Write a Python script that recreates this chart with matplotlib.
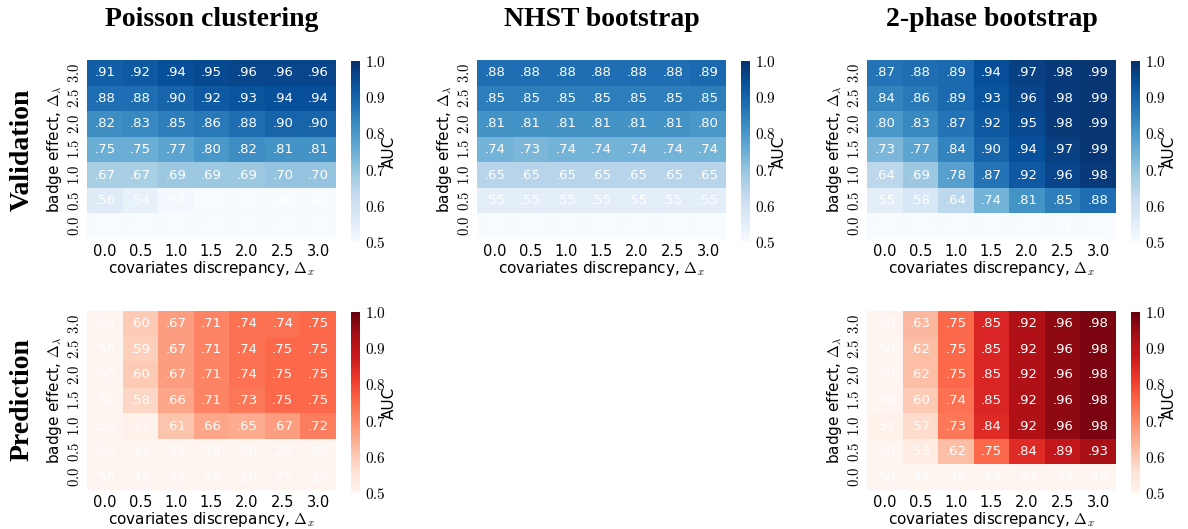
import numpy as np
import matplotlib
matplotlib.use("Agg")
import matplotlib.pyplot as plt
import seaborn as sns

plt.rcParams['mathtext.fontset'] = 'cm'
plt.rcParams['font.family'] = 'DejaVu Sans'

dx = [0.0, 0.5, 1.0, 1.5, 2.0, 2.5, 3.0]
dl = [3.0, 2.5, 2.0, 1.5, 1.0, 0.5, 0.0]   # rows, top to bottom

poisson_val = [
    [.91, .92, .94, .95, .96, .96, .96],
    [.88, .88, .90, .92, .93, .94, .94],
    [.82, .83, .85, .86, .88, .90, .90],
    [.75, .75, .77, .80, .82, .81, .81],
    [.67, .67, .69, .69, .69, .70, .70],
    [.56, .54, .51, .49, .47, .46, .46],
    [.49, .48, .43, .40, .39, .36, .35],
]
nhst_val = [
    [.88, .88, .88, .88, .88, .88, .89],
    [.85, .85, .85, .85, .85, .85, .85],
    [.81, .81, .81, .81, .81, .81, .80],
    [.74, .73, .74, .74, .74, .74, .74],
    [.65, .65, .65, .65, .65, .65, .65],
    [.55, .55, .55, .55, .55, .55, .55],
    [.50, .50, .50, .50, .50, .50, .50],
]
twophase_val = [
    [.87, .88, .89, .94, .97, .98, .99],
    [.84, .86, .89, .93, .96, .98, .99],
    [.80, .83, .87, .92, .95, .98, .99],
    [.73, .77, .84, .90, .94, .97, .99],
    [.64, .69, .78, .87, .92, .96, .98],
    [.55, .58, .64, .74, .81, .85, .88],
    [.50, .49, .46, .48, .48, .41, .48],
]
poisson_pred = [
    [.50, .60, .67, .71, .74, .74, .75],
    [.50, .59, .67, .71, .74, .75, .75],
    [.50, .60, .67, .71, .74, .75, .75],
    [.50, .58, .66, .71, .73, .75, .75],
    [.50, .51, .61, .66, .65, .67, .72],
    [.50, .41, .33, .29, .26, .25, .25],
    [.50, .41, .33, .28, .26, .25, .25],
]
twophase_pred = [
    [.50, .63, .75, .85, .92, .96, .98],
    [.50, .62, .75, .85, .92, .96, .98],
    [.50, .62, .75, .85, .92, .96, .98],
    [.49, .60, .74, .85, .92, .96, .98],
    [.51, .57, .73, .84, .92, .96, .98],
    [.50, .53, .62, .75, .84, .89, .93],
    [.50, .48, .46, .49, .47, .39, .48],
]

titles = ["Poisson clustering", "NHST bootstrap", "2-phase bootstrap"]
cbar_ticks = [0.5, 0.6, 0.7, 0.8, 0.9, 1.0]

W, H = 1188, 529
fig = plt.figure(figsize=(W / 100, H / 100), dpi=100)


def px(x, y, w, h):
    return [x / W, 1 - (y + h) / H, w / W, h / H]


def draw(data, left, top, cmap):
    ax = fig.add_axes(px(left, top, 249, 179))
    cax = fig.add_axes(px(left + 264, top + 1, 9, 181))
    arr = np.array(data)
    labels = np.array([[f"{v:.2f}"[1:] for v in r] for r in arr])
    sns.heatmap(arr, ax=ax, cbar_ax=cax, cmap=cmap, vmin=0.5, vmax=1.0,
                annot=labels, fmt='', annot_kws={'color': 'white', 'fontsize': 9.5},
                xticklabels=[f"{v:.1f}" for v in dx],
                yticklabels=[f"${v:.1f}$" for v in dl])
    ax.tick_params(length=0, labelsize=10.5)
    ax.set_xticklabels(ax.get_xticklabels(), rotation=0)
    ax.set_yticklabels(ax.get_yticklabels(), rotation=90, va='center')
    ax.set_xlabel(r"covariates discrepancy, $\Delta_x$", fontsize=11, labelpad=0)
    ax.set_ylabel(r"badge effect, $\Delta_\lambda$", fontsize=11, labelpad=2)
    cax.set_yticks(cbar_ticks)
    cax.set_yticklabels([f"${t:.1f}$" for t in cbar_ticks])
    cax.tick_params(length=0, labelsize=11)
    cax.set_ylabel("AUC", fontsize=11, labelpad=-3)
    for s in cax.spines.values():
        s.set_visible(False)
    return ax


lefts = [87, 477, 867]
draw(poisson_val, lefts[0], 60, 'Blues')
draw(nhst_val, lefts[1], 60, 'Blues')
draw(twophase_val, lefts[2], 60, 'Blues')
draw(poisson_pred, lefts[0], 311, 'Reds')
draw(twophase_pred, lefts[2], 311, 'Reds')

for t, l in zip(titles, lefts):
    fig.text((l + 124.5) / W, 1 - 19 / H, t, ha='center', va='center',
             fontsize=20, fontweight='bold', family='Liberation Serif')

fig.text(22 / W, 1 - 150 / H, "Validation", rotation=90, ha='center', va='center',
         fontsize=20, fontweight='bold', family='Liberation Serif')
fig.text(22 / W, 1 - 400 / H, "Prediction", rotation=90, ha='center', va='center',
         fontsize=20, fontweight='bold', family='Liberation Serif')

fig.savefig("out.png", dpi=100)
